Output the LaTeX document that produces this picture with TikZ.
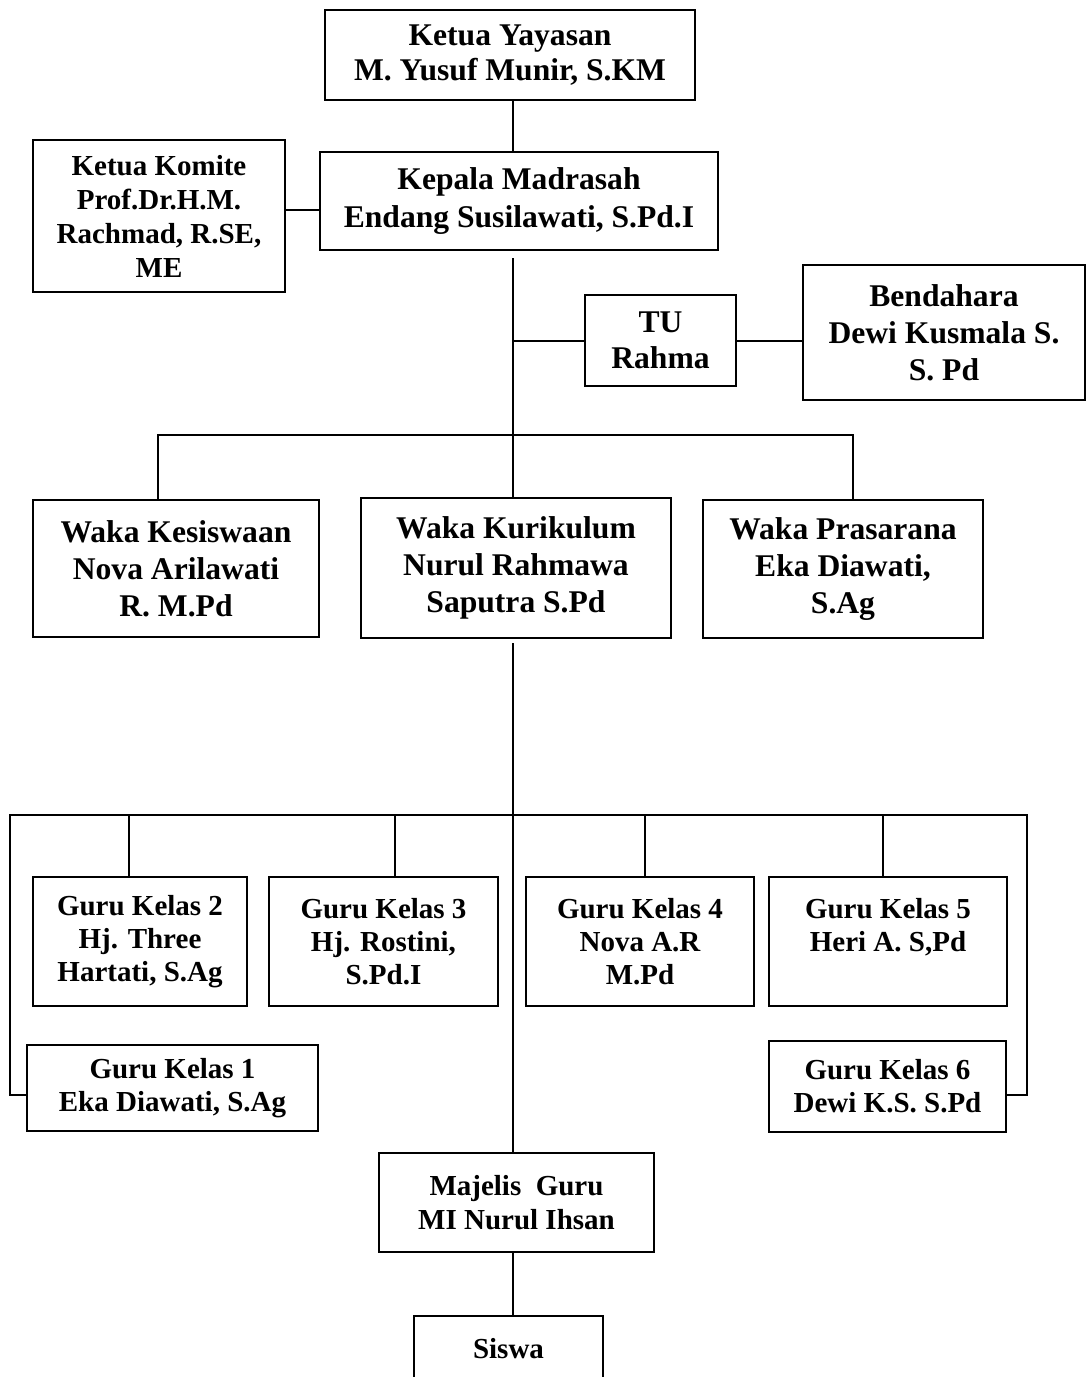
\documentclass[tikz,border=0pt]{standalone}
\usepackage{fontspec}
\setmainfont{Liberation Serif}
\usetikzlibrary{positioning}
\tikzset{bigbox/.style={draw, line width=0.8pt, align=center, inner sep=0pt,
    font=\fontsize{15.8}{18.5}\selectfont\bfseries},
  smallbox/.style={draw, line width=0.8pt, align=center, inner sep=0pt,
    font=\fontsize{14.5}{16.5}\selectfont\bfseries},
  conn/.style={line width=1pt}}

\begin{document}
\begin{tikzpicture}[x=0.5pt,y=-0.5pt]
\useasboundingbox (0,0) rectangle (1086,1377);
% pimpinan
\node[bigbox, minimum width=185pt, minimum height=45pt, font=\fontsize{15.8}{17.5}\selectfont\bfseries] (yay) at (510,55) {Ketua Yayasan\\M. Yusuf Munir, S.KM};
\node[bigbox, minimum width=199pt, minimum height=49pt, font=\fontsize{15.8}{19}\selectfont\bfseries] (kep) at (519,201) {Kepala Madrasah\\Endang Susilawati, S.Pd.I};
\node[smallbox, minimum width=126pt, minimum height=76pt, font=\fontsize{14.5}{17}\selectfont\bfseries] (kom) at (159,216) {Ketua Komite\\Prof.Dr.H.M.\\Rachmad, R.SE,\\ME};
\node[bigbox, minimum width=75.5pt, minimum height=45.5pt, font=\fontsize{15.8}{18}\selectfont\bfseries] (tu) at (660.5,340.5) {TU\\Rahma};
\node[bigbox, minimum width=141pt, minimum height=67.5pt] (ben) at (944,332.5) {Bendahara\\Dewi Kusmala S.\\S. Pd};
% waka
\node[bigbox, minimum width=143pt, minimum height=68.5pt] (wks) at (176,568.5) {Waka Kesiswaan\\Nova Arilawati\\R. M.Pd};
\node[bigbox, minimum width=155pt, minimum height=70pt] (wkk) at (516,568) {Waka Kurikulum\\Nurul Rahmawa\\Saputra S.Pd};
\node[bigbox, minimum width=140pt, minimum height=69pt] (wkp) at (843,569) {Waka Prasarana\\Eka Diawati,\\S.Ag};
% guru kelas
\node[smallbox, minimum width=107pt, minimum height=64.5pt] (g2) at (140,941.5) {Guru Kelas 2\\Hj. Three\\Hartati, S.Ag};
\node[smallbox, minimum width=114.5pt, minimum height=64.5pt] (g3) at (383.5,941.5) {Guru Kelas 3\\Hj. Rostini,\\S.Pd.I};
\node[smallbox, minimum width=114pt, minimum height=64.5pt] (g4) at (640,941.5) {Guru Kelas 4\\Nova A.R\\M.Pd};
\node[smallbox, minimum width=119pt, minimum height=64.5pt] (g5) at (888,941.5) {Guru Kelas 5\\Heri A. S,Pd\\\mbox{}};
\node[smallbox, minimum width=145.5pt, minimum height=43pt] (g1) at (172.5,1088) {Guru Kelas 1\\Eka Diawati, S.Ag};
\node[smallbox, minimum width=118.5pt, minimum height=45.5pt] (g6) at (887.5,1086.5) {Guru Kelas 6\\Dewi K.S. S.Pd};
% majelis dan siswa
\node[smallbox, minimum width=137.5pt, minimum height=49.5pt, font=\fontsize{14.5}{17}\selectfont\bfseries] (maj) at (516.5,1202.5) {Majelis\ \ Guru\\MI Nurul Ihsan};
\node[smallbox, minimum width=94.5pt, minimum height=33pt] (sis) at (508.5,1349) {Siswa};

% garis
\coordinate (top) at (513,258);
\coordinate (mid) at (513,643);
\coordinate (wbl) at (158,435);
\coordinate (wbr) at (853,435);
\coordinate (gbl) at (10,815);
\coordinate (gbr) at (1027,815);
\coordinate (gl) at (10,1095);
\coordinate (gr) at (1027,1095);
\draw[conn] (yay.south -| top) -- (kep.north -| top);
\draw[conn] ([yshift=-4.5pt]kep.west) -- ([yshift=-4.5pt]kep.west -| kom.east);
\draw[conn] (top) -- (top |- wkk.north);
\draw[conn] (top |- tu.west) -- (tu.west);
\draw[conn] (tu.east) -- (tu.east -| ben.west);
\draw[conn] (wbl |- wks.north) -- (wbl) -- (wbr) -- (wbr |- wkp.north);
\draw[conn] (mid) -- (mid |- maj.north);
\draw[conn] (gl -| g1.west) -- (gl) -- (gbl) -- (gbr) -- (gr) -- (gr -| g6.east);
\foreach \x/\g in {129/g2,395/g3,645/g4,883/g5}
\draw[conn] (\x,815) -- (\x,815 |- \g.north);
\draw[conn] (maj.south -| mid) -- (sis.north -| mid);
\end{tikzpicture}
\end{document}
